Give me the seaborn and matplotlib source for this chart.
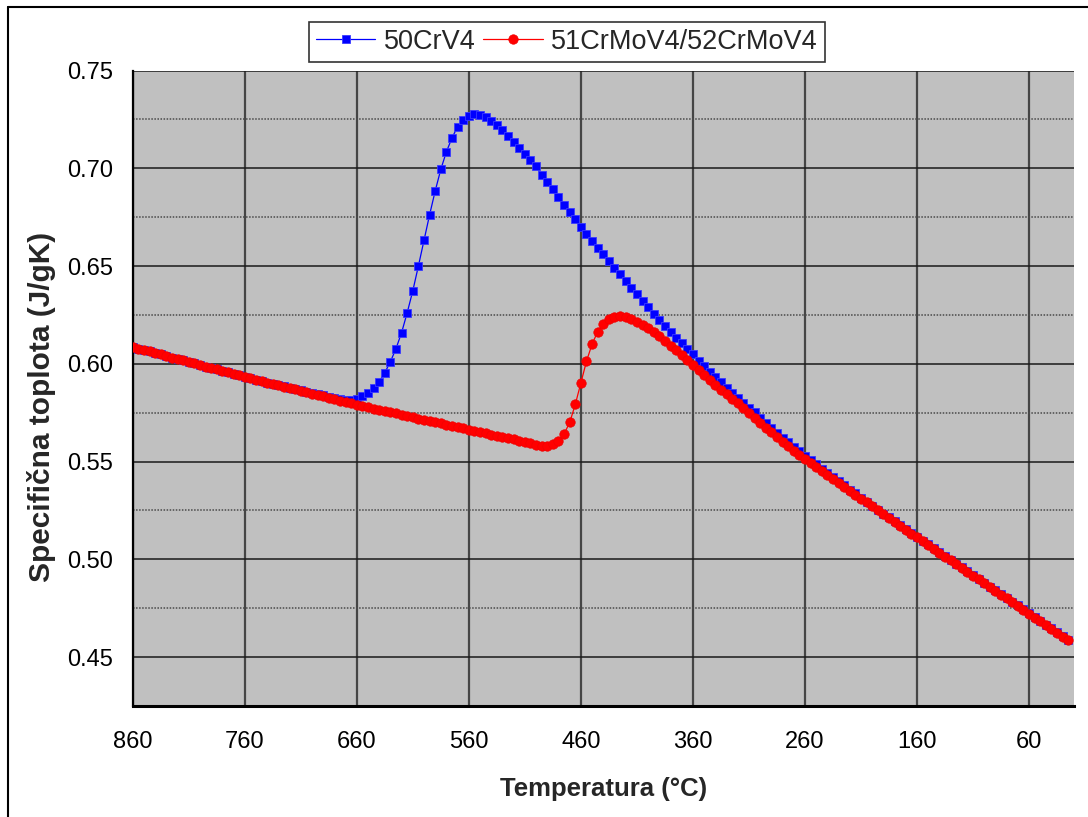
import matplotlib
matplotlib.use("Agg")
import matplotlib.pyplot as plt
from matplotlib.ticker import FixedLocator, FixedFormatter, MultipleLocator, FormatStrFormatter
from matplotlib.lines import Line2D
import seaborn as sns

# temperature steps (°C), from 860 down to 25
temps = list(range(860, 20, -5))

# specific heat, 50CrV4 (J/gK)
cp_50crv4 = [
    0.6086, 0.6078, 0.6071, 0.6063, 0.6055, 0.6048, 0.6040, 0.6032, 0.6025, 0.6017,
    0.6009, 0.6002, 0.5994, 0.5986, 0.5979, 0.5971, 0.5963, 0.5956, 0.5948, 0.5941,
    0.5933, 0.5926, 0.5919, 0.5912, 0.5904, 0.5897, 0.5890,
    0.5884, 0.5877, 0.5871, 0.5864, 0.5858, 0.5851, 0.5845, 0.5839, 0.5832, 0.5827,
    0.5821, 0.5816, 0.5815,
    0.5820, 0.5836, 0.5852, 0.5878, 0.5909, 0.5955, 0.6011, 0.6078, 0.6160, 0.6262,
    0.6374, 0.6501, 0.6633, 0.6763, 0.6885, 0.6995, 0.7085, 0.7156, 0.7213, 0.7245,
    0.7267, 0.7276, 0.7272, 0.7264, 0.7243, 0.7220, 0.7194, 0.7165, 0.7134, 0.7104,
    0.7072, 0.7042, 0.7010, 0.6966,
    0.6931, 0.6893, 0.6855, 0.6814, 0.6777, 0.6739, 0.6701, 0.6664, 0.6628, 0.6594,
    0.6560, 0.6526, 0.6492, 0.6458, 0.6424, 0.6390, 0.6357, 0.6323, 0.6289, 0.6255,
    0.6224, 0.6194, 0.6163, 0.6132, 0.6105, 0.6076, 0.6049, 0.6016, 0.5989, 0.5960,
    0.5935, 0.5906, 0.5878, 0.5853, 0.5827, 0.5802, 0.5776, 0.5751, 0.5725, 0.5699,
    0.5674, 0.5648, 0.5623, 0.5599, 0.5577, 0.5552,
    0.5529, 0.5507, 0.5485, 0.5463, 0.5442, 0.5420, 0.5399, 0.5378, 0.5357, 0.5337,
    0.5316, 0.5295, 0.5275, 0.5254, 0.5234, 0.5214, 0.5194, 0.5174, 0.5153, 0.5134,
    0.5115, 0.5095, 0.5076, 0.5056, 0.5037, 0.5017, 0.4998, 0.4978, 0.4959, 0.4939,
    0.4920, 0.4900, 0.4881, 0.4861, 0.4842, 0.4822, 0.4803, 0.4783, 0.4764, 0.4744,
    0.4725, 0.4705, 0.4686, 0.4666, 0.4647, 0.4627, 0.4608, 0.4588,
]

# specific heat, 51CrMoV4/52CrMoV4 (J/gK)
cp_51crmov4 = [
    0.6086, 0.6078, 0.6071, 0.6063, 0.6055, 0.6048, 0.6040, 0.6032, 0.6025, 0.6017,
    0.6009, 0.6002, 0.5994, 0.5986, 0.5979, 0.5971, 0.5963, 0.5956, 0.5948, 0.5941,
    0.5933, 0.5926, 0.5919, 0.5912, 0.5904, 0.5897, 0.5890,
    0.5883, 0.5876, 0.5869, 0.5862, 0.5854, 0.5847, 0.5840, 0.5833, 0.5826, 0.5819,
    0.5811, 0.5804, 0.5797,
    0.5790, 0.5784, 0.5777, 0.5771, 0.5765, 0.5758, 0.5752, 0.5746, 0.5739, 0.5733,
    0.5727, 0.5720, 0.5714, 0.5708, 0.5701, 0.5695, 0.5689, 0.5682, 0.5676, 0.5670,
    0.5663, 0.5657, 0.5651, 0.5644, 0.5638, 0.5632, 0.5625, 0.5619, 0.5613, 0.5606,
    0.5600, 0.5593, 0.5587, 0.5582,
    0.5580, 0.5588, 0.5605, 0.5641, 0.5700, 0.5792, 0.5903, 0.6013, 0.6101, 0.6164,
    0.6204, 0.6228, 0.6241, 0.6243, 0.6238, 0.6228, 0.6214, 0.6200, 0.6184, 0.6163,
    0.6140, 0.6117, 0.6093, 0.6069, 0.6043, 0.6017, 0.5993, 0.5966, 0.5941, 0.5915,
    0.5891, 0.5867, 0.5845, 0.5821, 0.5797, 0.5772, 0.5746, 0.5721, 0.5697, 0.5673,
    0.5649, 0.5626, 0.5602, 0.5579, 0.5556, 0.5535,
    0.5514, 0.5493, 0.5473, 0.5452, 0.5432, 0.5412, 0.5391, 0.5371, 0.5351, 0.5331,
    0.5311, 0.5291, 0.5271, 0.5251, 0.5231, 0.5211, 0.5191, 0.5171, 0.5151, 0.5131,
    0.5112, 0.5092, 0.5073, 0.5053, 0.5034, 0.5014, 0.4995, 0.4975, 0.4956, 0.4936,
    0.4917, 0.4897, 0.4878, 0.4858, 0.4839, 0.4819, 0.4800, 0.4780, 0.4761, 0.4741,
    0.4722, 0.4702, 0.4683, 0.4663, 0.4644, 0.4624, 0.4605, 0.4585,
]

x_ticks = [860, 760, 660, 560, 460, 360, 260, 160, 60]
x_ticklabels = ['860', '760', '660', '560', '460', '360', '260', '160', '60']

sns.set_style("white")
plt.rcParams['font.family'] = ['Liberation Sans', 'DejaVu Sans']

fig, ax = plt.subplots(figsize=(10.88, 8.17), dpi=100)
fig.subplots_adjust(left=0.122, right=0.987, top=0.9137, bottom=0.1359)
ax.set_facecolor('#c0c0c0')

sns.lineplot(x=temps, y=cp_50crv4, ax=ax, sort=False, color='#0000ff', lw=0.9,
             marker='s', markersize=5.6, markeredgecolor='#3a3aff', markeredgewidth=0.6,
             label='50CrV4', zorder=3)
sns.lineplot(x=temps, y=cp_51crmov4, ax=ax, sort=False, color='#ff0000', lw=0.9,
             marker='o', markersize=6.8, markeredgecolor='#f00000', markeredgewidth=0.5,
             label='51CrMoV4/52CrMoV4', zorder=4)

ax.set_xlim(860, 20)
ax.set_ylim(0.425, 0.75)

ax.xaxis.set_major_locator(FixedLocator(x_ticks))
ax.xaxis.set_major_formatter(FixedFormatter(x_ticklabels))
ax.xaxis.set_minor_locator(FixedLocator([860 - k * 100 / 6 for k in range(51)]))
ax.yaxis.set_major_locator(MultipleLocator(0.05))
ax.yaxis.set_minor_locator(MultipleLocator(0.025))
ax.yaxis.set_major_formatter(FormatStrFormatter('%.2f'))

ax.set_axisbelow(True)
ax.grid(which='major', axis='x', color='#454545', lw=1.6)
ax.grid(which='major', axis='y', color='#1a1a1a', lw=1.1)
ax.grid(which='minor', axis='y', color='#4a4a4a', lw=1.1, ls=(0, (1, 1)))

for side in ['top', 'right']:
    ax.spines[side].set_visible(False)
ax.spines['left'].set_color('black')
ax.spines['left'].set_linewidth(1.6)
ax.spines['bottom'].set_color('black')
ax.spines['bottom'].set_linewidth(2.2)

ax.tick_params(axis='both', which='major', direction='out', length=10, width=1.6,
               color='black', labelsize=17, labelcolor='black')
ax.tick_params(axis='both', which='minor', direction='out', length=6, width=1.3, color='black')
ax.tick_params(axis='x', which='major', pad=8)
ax.tick_params(axis='y', which='major', pad=4)

ax.set_xlabel('Temperatura (°C)', fontsize=18.5, fontweight='bold', labelpad=17)
ax.set_ylabel('Specifična toplota (J/gK)', fontsize=21.5, fontweight='bold')
ax.yaxis.set_label_coords(-0.082, 0.47)

leg = ax.legend(loc='upper center', bbox_to_anchor=(0.521, 0.973), bbox_transform=fig.transFigure,
                ncol=2, frameon=True, fancybox=False, edgecolor='black', fontsize=19.5,
                handlelength=2.2, handletextpad=0.3, columnspacing=0.3, borderpad=0.25,
                borderaxespad=0)
leg.get_frame().set_linewidth(1.2)

# outer frame of the figure
fig.add_artist(Line2D([8 / 1088, 8 / 1088], [0, 1 - 7.3 / 817], transform=fig.transFigure,
                      color='black', lw=1.5))
fig.add_artist(Line2D([8 / 1088, 1], [1 - 7.3 / 817, 1 - 7.3 / 817], transform=fig.transFigure,
                      color='black', lw=1.5))

fig.savefig('out.png', dpi=100)
